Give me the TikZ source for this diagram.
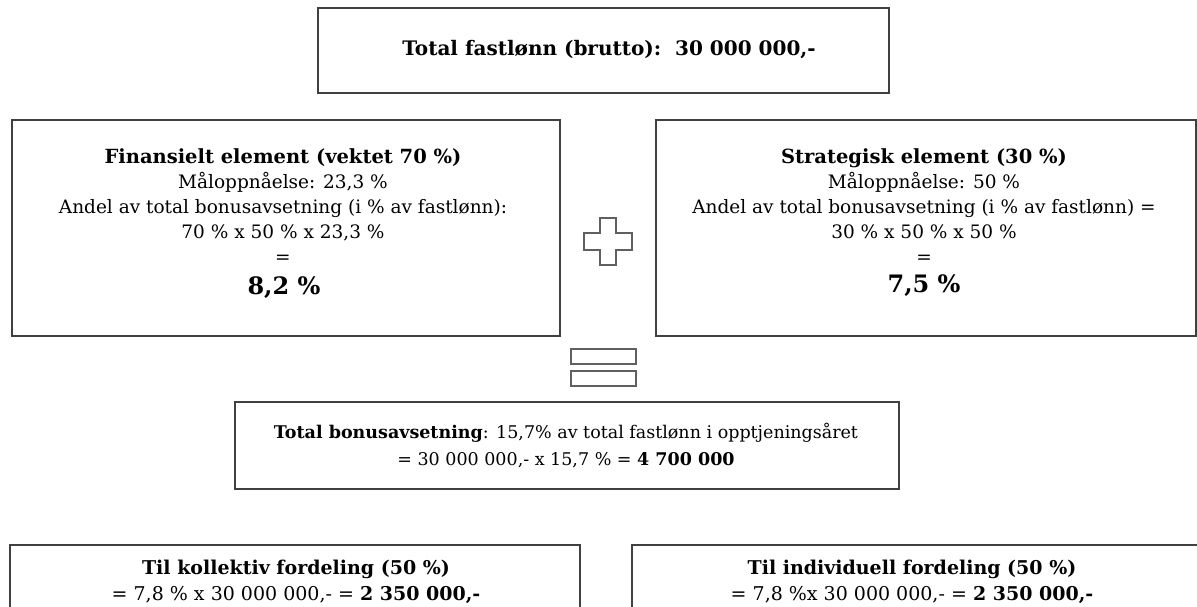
\documentclass[tikz,border=0pt]{standalone}
\usepackage{fontspec}
\setmainfont{DejaVu Serif}
\definecolor{linecol}{RGB}{64,64,64}
\definecolor{symcol}{RGB}{96,96,96}
\begin{document}
\begin{tikzpicture}[x=1pt,y=-1pt,
  box/.style={draw=linecol,line width=1.3pt,inner sep=0pt,outer sep=0pt,rectangle},
  txt/.style={inner sep=0pt,align=center,font=\fontsize{18.5}{25}\selectfont},
  big/.style={inner sep=0pt,font=\fontsize{24}{26}\selectfont\bfseries},
  sym/.style={draw=symcol,line width=1.3pt,fill=white}]
\useasboundingbox (0,0) rectangle (1197,606);
\clip (0,0) rectangle (1197,606);
% boxes
\node[box,minimum width=571pt,minimum height=85pt] (top) at (603.5,50.5) {};
\node[box,minimum width=548pt,minimum height=216pt] (fin) at (286,228) {};
\node[box,minimum width=540pt,minimum height=216pt] (str) at (926,228) {};
\node[box,minimum width=664pt,minimum height=87pt] (tot) at (567,445.5) {};
\node[box,minimum width=570pt,minimum height=120pt] (kol) at (295,605) {};
\node[box,minimum width=580pt,minimum height=120pt] (ind) at (922,605) {};
% texts
\node[txt,font=\fontsize{20}{22}\selectfont\bfseries] (toptxt) at (609,50) {Total fastlønn (brutto):\ \ 30 000 000,-};
\node[txt] (fintxt) at (283,206) {{\fontsize{19.5}{25}\selectfont\bfseries Finansielt element (vektet 70 \%)}\\Måloppnåelse: 23,3 \%\\Andel av total bonusavsetning (i \% av fastlønn):\\70 \% x 50 \% x 23,3 \%\\=};
\node[big] (finres) at (284,288) {8,2 \%};
\node[txt] (strtxt) at (924,206) {{\fontsize{19.5}{25}\selectfont\bfseries Strategisk element (30 \%)}\\Måloppnåelse: 50 \%\\Andel av total bonusavsetning (i \% av fastlønn) =\\30 \% x 50 \% x 50 \%\\=};
\node[big] (strres) at (924,286) {7,5 \%};
\node[txt,font=\fontsize{17.5}{27}\selectfont] (tottxt) at (566,446) {\textbf{Total bonusavsetning}: 15,7\% av total fastlønn i opptjeningsåret\\= 30 000 000,- x 15,7 \% = \textbf{4 700 000}};
\node[txt,font=\fontsize{19}{26}\selectfont] (koltxt) at (296,582) {\textbf{Til kollektiv fordeling (50 \%)}\\= 7,8 \% x 30 000 000,- = \textbf{2 350 000,-}};
\node[txt,font=\fontsize{19}{26}\selectfont] (indtxt) at (912,582) {\textbf{Til individuell fordeling (50 \%)}\\= 7,8 \%x 30 000 000,- = \textbf{2 350 000,-}};
% plus sign
\draw[sym] (600,218) -- (616,218) -- (616,233) -- (632,233) -- (632,250) -- (616,250) -- (616,265) -- (600,265) -- (600,250) -- (584,250) -- (584,233) -- (600,233) -- cycle;
% equals sign
\draw[sym] (571,349) rectangle (636,364);
\draw[sym] (571,371) rectangle (636,386);
\end{tikzpicture}
\end{document}
